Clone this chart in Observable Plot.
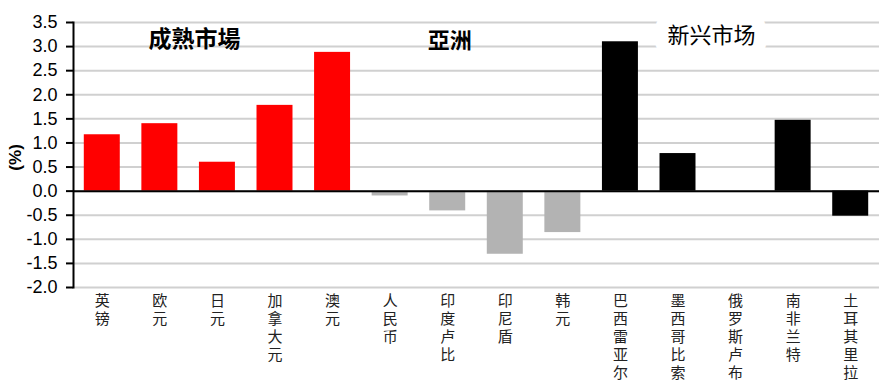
<!DOCTYPE html>
<html><head><meta charset="utf-8">
<script src="https://cdn.jsdelivr.net/npm/d3@7"></script>
<script src="https://cdn.jsdelivr.net/npm/@observablehq/plot@0.6"></script>
<style>body{margin:0;background:#fff}</style>
</head><body><div id="chart"></div>
<script>
const currencies = ["英镑","欧元","日元","加拿大元","澳元","人民币","印度卢比","印尼盾","韩元","巴西雷亚尔","墨西哥比索","俄罗斯卢布","南非兰特","土耳其里拉"];
const values = [1.17, 1.40, 0.60, 1.78, 2.88, -0.10, -0.41, -1.31, -0.86, 3.10, 0.78, 0.00, 1.47, -0.52];
const groups = ["成熟","成熟","成熟","成熟","成熟","亞洲","亞洲","亞洲","亞洲","新兴","新兴","新兴","新兴","新兴"];
const groupColors = {"成熟": "#ff0000", "亞洲": "#b3b3b3", "新兴": "#000000"};
const yTicks = [-2.0, -1.5, -1.0, -0.5, 0.0, 0.5, 1.0, 1.5, 2.0, 2.5, 3.0, 3.5];

const data = currencies.map((c, i) => ({c, v: values[i], g: groups[i]}));
const cjk = "'Noto Sans CJK SC', 'Noto Sans CJK TC', sans-serif";

const chart = Plot.plot({
  width: 887,
  height: 392,
  marginLeft: 73,
  marginRight: 8,
  marginTop: 22,
  marginBottom: 105,
  style: {fontFamily: "'Liberation Sans', Arial, sans-serif", background: "white", color: "black"},
  x: {domain: currencies, paddingInner: 0.375, paddingOuter: 0.1875, round: false, axis: null},
  y: {domain: [-2, 3.5], axis: null},
  marks: [
    Plot.ruleY(yTicks, {stroke: "#d0d0d0", strokeWidth: 2}),
    Plot.barY(data, {x: "c", y: "v", fill: d => groupColors[d.g]}),
    Plot.ruleY([0], {stroke: "black", strokeWidth: 2}),
    Plot.frame({anchor: "left", stroke: "black", strokeWidth: 2}),
    Plot.axisY({ticks: yTicks, tickFormat: d => d.toFixed(1), tickSize: 7, tickPadding: 9, fontSize: 18, strokeWidth: 2, label: null}),
    Plot.axisX({tickSize: 0, tickPadding: 6, tickFormat: d => [...d].join("\n"), lineHeight: 1.2, fontSize: 15, fontFamily: "'Liberation Sans', 'Noto Sans CJK SC', sans-serif", fill: "#222", label: null}),
    Plot.text(["(%)"], {frameAnchor: "left", y: () => 0.7, dx: -58, rotate: -90, textAnchor: "middle", fontSize: 17, fontWeight: "bold"}),
    Plot.text(["成熟市場"], {x: () => "日元", y: () => 3.14, dx: -23, fontSize: 23, fontWeight: "bold", fontFamily: cjk}),
    Plot.text(["亞洲"], {x: () => "印度卢比", y: () => 3.12, dx: 2, fontSize: 22, fontWeight: "bold", fontFamily: cjk}),
    Plot.text(["新兴市场"], {x: () => "俄罗斯卢布", y: () => 3.22, dx: -24, fontSize: 22, fontFamily: cjk, stroke: "white", strokeWidth: 26, fill: "black"})
  ]
});
document.getElementById("chart").appendChild(chart);
</script>
</body></html>
